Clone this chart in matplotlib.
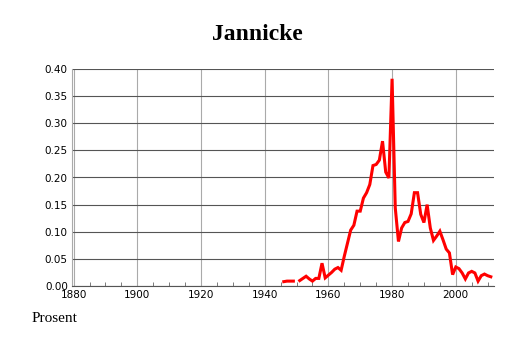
import matplotlib.pyplot as plt
import numpy as np

years = np.arange(1946, 2012)
values = [
    0.008, 0.009, 0.009, 0.009, np.nan,  # 1946-1950
    0.010, 0.014, 0.018, 0.013, 0.009, 0.014, 0.014, 0.042, 0.015,  # 1951-1959
    0.020, 0.025, 0.031, 0.034, 0.029, 0.055, 0.079, 0.103, 0.112, 0.138,  # 1960s
    0.138, 0.162, 0.172, 0.187, 0.222, 0.224, 0.232, 0.267, 0.210, 0.199,  # 1970s
    0.382, 0.144, 0.082, 0.107, 0.117, 0.119, 0.133, 0.172, 0.172, 0.132,  # 1980s
    0.117, 0.150, 0.107, 0.084, 0.092, 0.101, 0.085, 0.068, 0.061, 0.021,  # 1990s
    0.035, 0.032, 0.024, 0.013, 0.024, 0.027, 0.024, 0.009, 0.019, 0.022,  # 2000s
    0.019, 0.017,
]
x_ticks = [1880, 1900, 1920, 1940, 1960, 1980, 2000]
y_ticks = [0.0, 0.05, 0.10, 0.15, 0.20, 0.25, 0.30, 0.35, 0.40]

fig = plt.figure(figsize=(5.14, 3.43), dpi=100)
ax = fig.add_axes([72 / 514, 1 - 286 / 343, 422 / 514, 217 / 343])

ax.plot(years, values, color="#ff0000", lw=2.2, solid_joinstyle="miter")

ax.set_xlim(1879.5, 2012)
ax.set_ylim(0, 0.40)
ax.set_xticks(x_ticks)
ax.set_xticks(np.arange(1885, 2012, 5), minor=True)
ax.set_yticks(y_ticks)
ax.set_yticklabels([f"{v:.2f}" for v in y_ticks])

ax.yaxis.grid(True, color="#555555", lw=0.8)
ax.xaxis.grid(True, color="#aaaaaa", lw=0.8)
ax.set_axisbelow(True)

ax.tick_params(axis="both", labelsize=7.5, length=0, pad=3)
ax.tick_params(axis="x", which="minor", direction="in", length=3, color="#666666")
for s in ["top", "right"]:
    ax.spines[s].set_visible(False)
ax.spines["left"].set_color("#aaaaaa")
ax.spines["bottom"].set_color("#555555")

fig.text(0.5, 1 - 35 / 343, "Jannicke", ha="center", va="center",
         fontsize=17, fontweight="bold", family="Liberation Serif")
fig.text(32 / 514, 1 - 318 / 343, "Prosent", ha="left", va="center",
         fontsize=11, family="Liberation Serif")

fig.savefig("out.png", dpi=100)
